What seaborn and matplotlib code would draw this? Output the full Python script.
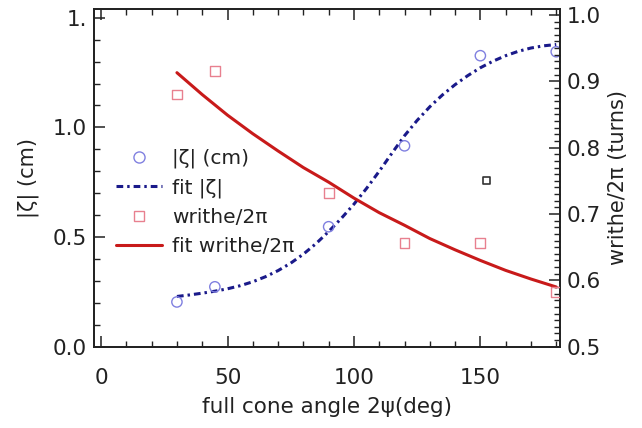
import numpy as np
import pandas as pd
import matplotlib
matplotlib.use("Agg")
import matplotlib.pyplot as plt
from matplotlib.lines import Line2D
from matplotlib.ticker import MultipleLocator, FixedLocator, FixedFormatter
import seaborn as sns

# measured points
angle = [30, 45, 90, 120, 150, 180]
zeta = [0.204, 0.273, 0.547, 0.916, 1.327, 1.345]
writhe = [0.880, 0.916, 0.732, 0.656, 0.656, 0.583]

# fit curves
zfit_angle = [30, 35, 40, 45, 50, 55, 60, 65, 70, 75, 80, 85, 90, 95, 100, 105, 110,
              115, 120, 125, 130, 135, 140, 145, 150, 155, 160, 165, 170, 175, 180]
zfit = [0.229, 0.236, 0.244, 0.253, 0.264, 0.278, 0.296, 0.319, 0.347, 0.381,
        0.422, 0.47, 0.525, 0.585, 0.65, 0.722, 0.80, 0.882, 0.962, 1.032, 1.094,
        1.148, 1.195, 1.236, 1.272, 1.302, 1.327, 1.347, 1.362, 1.372, 1.378]
wfit_angle = [30, 40, 50, 60, 70, 80, 90, 100, 110, 120, 130, 140, 150, 160, 170, 180]
wfit = [0.913, 0.880, 0.849, 0.821, 0.795, 0.770, 0.748, 0.724, 0.702, 0.683,
        0.663, 0.646, 0.630, 0.615, 0.602, 0.590]

# the lone black square
extra_angle = [152.5]
extra_zeta = [0.757]

blue_pt = '#8080e0'
blue_fit = '#1a1a8a'
pink_pt = '#e8808f'
red_fit = '#c81a1a'
ink = '#222222'

sns.set_style('white')
plt.rcParams['font.family'] = ['DejaVu Sans']
plt.rcParams['text.color'] = ink
plt.rcParams['axes.labelcolor'] = ink
plt.rcParams['xtick.color'] = ink
plt.rcParams['ytick.color'] = ink

fig = plt.figure(figsize=(6.42, 4.28), dpi=100)
ax = fig.add_axes([0.1464, 0.19, 0.7259, 0.789])
ax2 = ax.twinx()

dashdot = (0, (2.2, 1.3, 0.8, 1.3))
sns.lineplot(x=zfit_angle, y=zfit, ax=ax, color=blue_fit, linewidth=2.2,
             linestyle=dashdot)
sns.scatterplot(x=angle, y=zeta, ax=ax, marker='o', s=55, facecolors='none',
                edgecolor=blue_pt, linewidth=1.0, zorder=3)
sns.scatterplot(x=extra_angle, y=extra_zeta, ax=ax, marker='s', s=25, facecolors='none',
                edgecolor='#333333', linewidth=1.2, zorder=3)

sns.lineplot(x=wfit_angle, y=wfit, ax=ax2, color=red_fit, linewidth=2.2)
sns.scatterplot(x=angle, y=writhe, ax=ax2, marker='s', s=50, facecolors='none',
                edgecolor=pink_pt, linewidth=1.0, zorder=3)

ax.set_xlim(-2.8, 181.5)
ax.set_ylim(0, 1.54)
ax2.set_ylim(0.5, 1.009)

ax.xaxis.set_major_locator(MultipleLocator(50))
ax.xaxis.set_minor_locator(MultipleLocator(10))
ax.yaxis.set_major_locator(FixedLocator([0, 0.5, 1.0, 1.5]))
ax.yaxis.set_major_formatter(FixedFormatter(['0.0', '0.5', '1.0', '1.']))
ax.yaxis.set_minor_locator(MultipleLocator(0.1))
ax2.yaxis.set_major_locator(MultipleLocator(0.1))
ax2.yaxis.set_minor_locator(MultipleLocator(0.01))

ax.tick_params(axis='x', which='both', direction='in', top=True, bottom=True,
               labelsize=15.5, pad=15)
ax.tick_params(axis='y', which='both', direction='in', left=True, right=False,
               labelsize=15.5, pad=5)
ax2.tick_params(axis='y', which='both', direction='in', right=True, left=False,
                labelsize=15.5, pad=5)
for a in (ax, ax2):
    a.tick_params(which='major', length=8, width=1.1)
    a.tick_params(which='minor', length=4.5, width=1.0)
    for sp in a.spines.values():
        sp.set_color(ink)
        sp.set_linewidth(1.3)

ax.set_xlabel('full cone angle 2\u03c8(deg)', fontsize=15.5, labelpad=7)
ax.set_ylabel('|\u03b6| (cm)', fontsize=15, labelpad=10)
ax2.set_ylabel('writhe/2\u03c0 (turns)', fontsize=15, labelpad=5)

handles = [
    Line2D([], [], linestyle='none', marker='o', markersize=8, markerfacecolor='none',
           markeredgecolor=blue_pt, markeredgewidth=1.0),
    Line2D([], [], color=blue_fit, linewidth=2.2, linestyle=dashdot),
    Line2D([], [], linestyle='none', marker='s', markersize=7, markerfacecolor='none',
           markeredgecolor=pink_pt, markeredgewidth=1.0),
    Line2D([], [], color=red_fit, linewidth=2.2),
]
labels = ['|\u03b6| (cm)', 'fit |\u03b6|', 'writhe/2\u03c0', 'fit writhe/2\u03c0']
ax2.legend(handles, labels, loc='upper left', bbox_to_anchor=(0.03, 0.61),
           frameon=False, fontsize=14.5, handlelength=2.3, handletextpad=0.5,
           labelspacing=0.5, borderaxespad=0)

fig.savefig('out.png', dpi=100)
